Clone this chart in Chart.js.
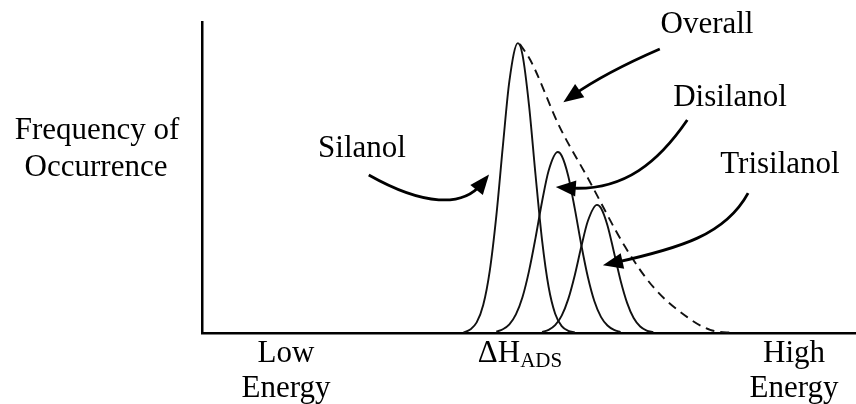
<!DOCTYPE html>
<html lang="en">
<head>
    <meta charset="UTF-8">
    <title>Frequency of Occurrence vs Adsorption Energy</title>
    <script src="https://cdn.jsdelivr.net/npm/chart.js@4.4.3/dist/chart.umd.min.js"></script>
    <style>
        body { margin: 0; background: #ffffff; }
        #wrap { width: 856px; height: 404px; }
    </style>
</head>
<body>
    <div id="wrap">
        <canvas id="energyChart" width="856" height="404"></canvas>
    </div>
    <script>
        // Energy axis (arbitrary units, 0 = low energy, 100 = high energy)
        const silanolX = [40, 41, 42, 43, 44, 45, 46, 47, 48.3, 49, 50, 51, 52, 53, 54, 55, 56, 57];
        const silanolY = [0.2, 1.1, 3.4, 9.0, 20.0, 37.6, 60.0, 81.0, 93.2, 89.5, 73.3, 50.8, 29.8, 14.8, 6.2, 2.2, 0.7, 0.2];

        const disilanolX = [45, 46, 47, 48, 49, 50, 51, 52, 53, 54.4, 55, 56, 57, 58, 59, 60, 61, 62, 63, 64];
        const disilanolY = [0.4, 1.2, 2.8, 6.0, 11.5, 19.9, 30.6, 42.3, 52.2, 58.2, 57.0, 50.5, 40.0, 28.3, 18.0, 10.2, 5.2, 2.4, 1.0, 0.3];

        const trisilanolX = [52, 53, 54, 55, 56, 57, 58, 59, 60.4, 61, 62, 63, 64, 65, 66, 67, 68, 69];
        const trisilanolY = [0.3, 1.0, 2.5, 5.6, 10.9, 18.6, 27.8, 36.0, 41.2, 40.2, 34.6, 25.9, 16.9, 9.7, 4.8, 2.1, 0.8, 0.3];

        const overallX = [48.6, 50.2, 54.7, 58.9, 64.7, 69.0, 74.2, 77.7, 81.5];
        const overallY = [92.9, 87.8, 66.2, 50.2, 27.7, 14.8, 5.1, 1.0, 0.0];

        const toPoints = (xs, ys) => xs.map((x, i) => ({ x: x, y: ys[i] }));

        const serif = '"Liberation Serif", "Times New Roman", serif';

        // Curved arrows (data units: start, control1, control2, tip)
        const arrows = [
            [[25.5, 50.8], [33.9, 40.8], [39.9, 40.5], [43.7, 50.5]],
            [[70.0, 91.3], [65.4, 87.1], [60.1, 81.4], [55.5, 74.6]],
            [[74.2, 68.5], [70.0, 55.6], [64.7, 45.3], [54.4, 46.9]],
            [[83.5, 45.0], [80.0, 31.5], [73.1, 27.3], [61.6, 21.9]]
        ];

        const annotations = {
            id: 'annotations',
            afterDatasetsDraw(chart) {
                const c = chart.ctx;
                const xs = chart.scales.x;
                const ys = chart.scales.y;
                c.save();
                c.fillStyle = '#000';
                c.strokeStyle = '#000';

                // arrows
                arrows.forEach(a => {
                    const p = a.map(pt => [xs.getPixelForValue(pt[0]), ys.getPixelForValue(pt[1])]);
                    const ang = Math.atan2(p[3][1] - p[2][1], p[3][0] - p[2][0]);
                    const len = 20, half = 8;
                    c.lineWidth = 2.8;
                    c.beginPath();
                    c.moveTo(p[0][0], p[0][1]);
                    c.bezierCurveTo(p[1][0], p[1][1], p[2][0], p[2][1],
                        p[3][0] - Math.cos(ang) * 10, p[3][1] - Math.sin(ang) * 10);
                    c.stroke();
                    const tx = p[3][0] + Math.cos(ang) * 2, ty = p[3][1] + Math.sin(ang) * 2;
                    c.beginPath();
                    c.moveTo(tx, ty);
                    c.lineTo(tx - len * Math.cos(ang) + half * Math.sin(ang), ty - len * Math.sin(ang) - half * Math.cos(ang));
                    c.lineTo(tx - len * Math.cos(ang) - half * Math.sin(ang), ty - len * Math.sin(ang) + half * Math.cos(ang));
                    c.closePath();
                    c.fill();
                });

                // labels
                c.font = '31px ' + serif;
                c.textAlign = 'center';
                c.textBaseline = 'alphabetic';
                c.fillText('Frequency of', 97, 139);
                c.fillText('Occurrence', 96, 176);
                c.fillText('Silanol', 362, 157);
                c.fillText('Overall', 707, 33);
                c.fillText('Disilanol', 730, 106);
                c.fillText('Trisilanol', 780, 173);
                c.fillText('Low', 286, 362);
                c.fillText('Energy', 286, 397);
                c.fillText('High', 794, 362);
                c.fillText('Energy', 794, 397);

                // ΔH with ADS subscript
                c.textAlign = 'left';
                const big = 'ΔH';
                const w1 = c.measureText(big).width;
                c.font = '21px ' + serif;
                const w2 = c.measureText('ADS').width;
                const left = 520 - (w1 + w2) / 2;
                c.font = '31px ' + serif;
                c.fillText(big, left, 362);
                c.font = '21px ' + serif;
                c.fillText('ADS', left + w1, 367);
                c.restore();
            }
        };

        const solid = (label, xs, ys) => ({
            label: label,
            data: toPoints(xs, ys),
            borderColor: '#111',
            borderWidth: 1.9,
            pointRadius: 0,
            fill: false,
            cubicInterpolationMode: 'monotone',
            clip: false
        });

        new Chart(document.getElementById('energyChart'), {
            type: 'line',
            data: {
                datasets: [
                    solid('Silanol', silanolX, silanolY),
                    solid('Disilanol', disilanolX, disilanolY),
                    solid('Trisilanol', trisilanolX, trisilanolY),
                    {
                        label: 'Overall',
                        data: toPoints(overallX, overallY),
                        borderColor: '#111',
                        borderWidth: 1.9,
                        borderDash: [9, 6],
                        pointRadius: 0,
                        fill: false,
                        cubicInterpolationMode: 'monotone',
                        clip: false
                    }
                ]
            },
            options: {
                responsive: false,
                animation: false,
                layout: { padding: { left: 202, top: 22, right: 0, bottom: 71 } },
                scales: {
                    x: {
                        type: 'linear',
                        min: 0,
                        max: 100,
                        ticks: { display: false },
                        grid: { display: false, drawTicks: false },
                        border: { display: true, color: '#000', width: 2.5 }
                    },
                    y: {
                        min: 0,
                        max: 100,
                        ticks: { display: false },
                        grid: { display: false, drawTicks: false },
                        border: { display: true, color: '#000', width: 2.5 }
                    }
                },
                plugins: {
                    legend: { display: false },
                    tooltip: { enabled: false }
                }
            },
            plugins: [annotations]
        });
    </script>
</body>
</html>
